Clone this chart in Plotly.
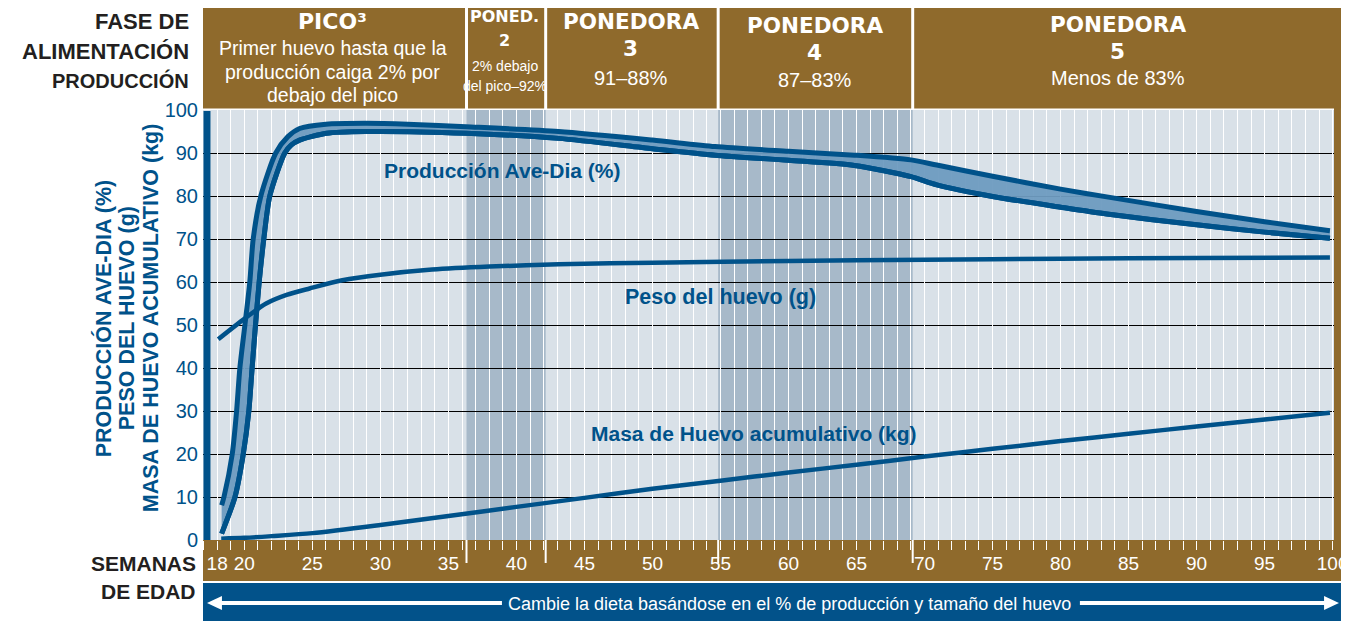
import plotly.graph_objects as go

# ---------------- data ----------------
weeks_prod_high = [18.33, 18.5, 19.11, 19.43, 19.67, 20.04, 20.40, 20.65, 21.21, 22.31, 23.2, 24.06,
                   26.0, 28.9, 32.0, 36.3, 43.1, 50.0, 54.6, 60.0, 64.85, 69.0, 70.9, 75.0, 80.0,
                   83.4, 90.0, 95.0, 99.8]
prod_high = [8.1, 10.0, 20.0, 30.0, 40.0, 50.0, 60.0, 70.0, 80.0, 90.0, 93.8, 95.7,
             96.7, 96.9, 96.7, 96.1, 95.0, 93.0, 91.5, 90.4, 89.5, 88.4, 87.2, 84.6, 81.6,
             79.8, 76.4, 74.0, 71.9]

weeks_prod_low = [18.33, 19.31, 19.92, 20.33, 20.57, 20.82, 21.09, 21.43, 21.87, 22.97, 23.46, 24.06,
                  26.05, 28.9, 36.3, 43.1, 50.0, 54.6, 60.0, 64.85, 69.0, 70.9, 75.0, 80.0,
                  83.4, 90.0, 95.0, 99.8]
prod_low = [1.5, 10.0, 20.0, 30.0, 40.0, 50.0, 60.0, 70.0, 80.0, 90.0, 91.9, 93.0,
            94.6, 95.0, 94.6, 93.4, 91.0, 89.5, 88.3, 87.1, 84.5, 82.6, 79.9, 77.4,
            75.8, 73.3, 71.6, 70.2]

weeks_peso = [18.08, 19.9, 21.6, 23.1, 24.8, 27.2, 30.0, 33.8, 38.0, 43.1, 50.0, 60.0, 70.0, 80.0, 90.0, 99.8]
peso_huevo = [46.7, 51.2, 55.0, 57.0, 58.5, 60.4, 61.7, 62.9, 63.6, 64.1, 64.5, 64.9, 65.2, 65.4, 65.6, 65.7]

weeks_masa = [18.3, 20.0, 22.0, 25.0, 30.0, 35.0, 40.0, 45.0, 50.0, 55.0, 60.0, 65.0, 70.0,
              75.0, 80.0, 85.0, 90.0, 95.0, 99.8]
masa_acum = [0.3, 0.5, 0.9, 1.6, 3.5, 5.6, 7.7, 9.8, 11.9, 13.8, 15.7, 17.5, 19.4,
             21.2, 23.0, 24.7, 26.4, 28.0, 29.6]

x_tick_vals = [18, 20, 25, 30, 35, 40, 45, 50, 55, 60, 65, 70, 75, 80, 85, 90, 95, 100]
x_tick_text = [str(v) for v in x_tick_vals]
y_tick_vals = [0, 10, 20, 30, 40, 50, 60, 70, 80, 90, 100]
y_tick_text = [str(v) for v in y_tick_vals]
y_grid_vals = [10, 20, 30, 40, 50, 60, 70, 80, 90]

phase_bounds = [36.33, 42.15, 54.83, 69.13]          # weeks where feeding phases change
shaded_phases = [(36.33, 42.15), (54.83, 69.13)]

phase_titles = [["PICO³"], ["PONED.", "2"], ["PONEDORA", "3"], ["PONEDORA", "4"], ["PONEDORA", "5"]]
phase_texts = [["Primer huevo hasta que la", "producción caiga 2% por", "debajo del pico"],
               ["2% debajo", "del pico–92%"],
               ["91–88%"], ["87–83%"], ["Menos de 83%"]]

# ---------------- styling / geometry ----------------
OFF = 8                      # the page body adds an 8px margin; design in reference pixels
W, H = 1360 - OFF, 621 - OFF
PL, PR, PT, PB = 203, 1338, 110, 540      # plot area in reference pixels
L, R, T, B = PL - OFF, W - (PR - OFF), PT - OFF, H - (PB - OFF)
X0, X1 = 16.96, 100.1
PW, PH = PR - PL, PB - PT

BLUE = "#00528A"
FILL = "rgba(110,155,192,0.95)"
BROWN = "#8F6A2C"
BG = "#D9E1E8"
DARKBAND = "#A7B9C9"
INK = "#231F20"
NARROW = "Liberation Sans Narrow, Arial Narrow, sans-serif"
SANS = "Liberation Sans, Arial, sans-serif"
HEAVY = "DejaVu Sans, Verdana, sans-serif"


def fx(px):
    return (px - PL) / PW


def fy(py):
    return (PB - py) / PH


def wk2px(w):
    return PL + (w - X0) / (X1 - X0) * PW


fig = go.Figure()

line_kw = dict(shape="spline", smoothing=0.7)
fig.add_trace(go.Scatter(x=weeks_prod_low, y=prod_low, mode="lines",
                         line=dict(color=BLUE, width=5, **line_kw),
                         hoverinfo="skip", showlegend=False))
fig.add_trace(go.Scatter(x=weeks_prod_high, y=prod_high, mode="lines", fill="tonexty",
                         fillcolor=FILL, line=dict(color=BLUE, width=5, **line_kw),
                         hoverinfo="skip", showlegend=False))
fig.add_trace(go.Scatter(x=weeks_prod_low, y=prod_low, mode="lines",
                         line=dict(color=BLUE, width=5, **line_kw),
                         hoverinfo="skip", showlegend=False))
fig.add_trace(go.Scatter(x=weeks_peso, y=peso_huevo, mode="lines",
                         line=dict(color=BLUE, width=4.5, shape="spline", smoothing=0.8),
                         hoverinfo="skip", showlegend=False))
fig.add_trace(go.Scatter(x=weeks_masa, y=masa_acum, mode="lines",
                         line=dict(color=BLUE, width=4.5, shape="spline", smoothing=0.8),
                         hoverinfo="skip", showlegend=False))

shapes = []
for a, b in shaded_phases:
    shapes.append(dict(type="rect", xref="x", yref="paper", x0=a, x1=b, y0=0, y1=1,
                       fillcolor=DARKBAND, line=dict(width=0), layer="below"))

edges = [PL] + [wk2px(w) for w in phase_bounds] + [1345]
for i in range(5):
    x0 = edges[i] + (1.5 if i > 0 else 0)
    x1 = edges[i + 1] - (1.5 if i < 4 else 0)
    shapes.append(dict(type="rect", xref="paper", yref="paper", x0=fx(x0), x1=fx(x1),
                       y0=fy(108.5), y1=fy(8), fillcolor=BROWN, line=dict(width=0), layer="below"))
shapes.append(dict(type="rect", xref="paper", yref="paper", x0=fx(1338), x1=fx(1345),
                   y0=fy(581), y1=fy(8), fillcolor=BROWN, line=dict(width=0), layer="below"))
shapes.append(dict(type="rect", xref="paper", yref="paper", x0=fx(203), x1=fx(1345),
                   y0=fy(581), y1=fy(540), fillcolor=BROWN, line=dict(width=0), layer="below"))
shapes.append(dict(type="rect", xref="paper", yref="paper", x0=fx(203), x1=fx(1345),
                   y0=fy(621), y1=fy(583), fillcolor="#02528A", line=dict(width=0), layer="below"))
shapes.append(dict(type="rect", xref="paper", yref="paper", x0=fx(203.5), x1=fx(210.5),
                   y0=fy(540), y1=fy(111), fillcolor=BLUE, line=dict(width=0), layer="above"))
for w in phase_bounds:
    xp = fx(wk2px(w))
    shapes.append(dict(type="line", xref="paper", yref="paper", x0=xp, x1=xp,
                       y0=fy(540), y1=fy(563), line=dict(color="white", width=2), layer="above"))
ya = fy(603)
shapes.append(dict(type="line", xref="paper", yref="paper", x0=fx(218), x1=fx(503), y0=ya, y1=ya,
                   line=dict(color="white", width=4), layer="above"))
shapes.append(dict(type="line", xref="paper", yref="paper", x0=fx(1083), x1=fx(1330), y0=ya, y1=ya,
                   line=dict(color="white", width=4), layer="above"))
shapes.append(dict(type="path", xref="paper", yref="paper",
                   path=f"M {fx(207)},{ya} L {fx(222)},{fy(596)} L {fx(222)},{fy(610)} Z",
                   fillcolor="white", line=dict(width=0), layer="above"))
shapes.append(dict(type="path", xref="paper", yref="paper",
                   path=f"M {fx(1343)},{ya} L {fx(1328)},{fy(596)} L {fx(1328)},{fy(610)} Z",
                   fillcolor="white", line=dict(width=0), layer="above"))

annotations = []


def add_text(text, px, py, size, family, color, bold=False, xanchor="center", angle=0):
    annotations.append(dict(text=f"<b>{text}</b>" if bold else text, xref="paper", yref="paper",
                            x=fx(px), y=fy(py), xanchor=xanchor, yanchor="middle",
                            showarrow=False, textangle=angle,
                            font=dict(size=size, family=family, color=color)))


centers = [333, 506, 632.5, 817, 1121]
title_y = [[22], [16, 41], [22, 49], [25, 52], [24, 51]]
title_size = [22, 16, 21.5, 21.5, 21.5]
desc_y = [[48, 72, 95], [66, 86], [78], [80], [78]]
desc_size = [19.5, 14, 20, 20, 20]
for i in range(5):
    for t, yy in zip(phase_titles[i], title_y[i]):
        add_text(t, centers[i], yy, title_size[i], HEAVY, "white", bold=True)
    for t, yy in zip(phase_texts[i], desc_y[i]):
        add_text(t, centers[i], yy, desc_size[i], NARROW, "white")

add_text("FASE DE", 191, 22, 22, SANS, INK, bold=True, xanchor="right")
add_text("ALIMENTACIÓN", 191, 51, 22, SANS, INK, bold=True, xanchor="right")
add_text("PRODUCCIÓN", 191, 80, 20, SANS, INK, bold=True, xanchor="right")
add_text("SEMANAS", 198, 563, 21, SANS, INK, bold=True, xanchor="right")
add_text("DE EDAD", 198, 591, 21, SANS, INK, bold=True, xanchor="right")

add_text("PRODUCCIÓN AVE-DIA (%)", 103, 318, 21.5, SANS, BLUE, bold=True, angle=-90)
add_text("PESO DEL HUEVO (g)", 127, 318, 21.5, SANS, BLUE, bold=True, angle=-90)
add_text("MASA DE HUEVO ACUMULATIVO (kg)", 151, 318, 21.5, SANS, BLUE, bold=True, angle=-90)

add_text("Producción Ave-Dia (%)", 503.5, 170, 21, SANS, BLUE, bold=True)
add_text("Peso del huevo (g)", 722, 297, 21.5, SANS, BLUE, bold=True)
add_text("Masa de Huevo acumulativo (kg)", 756, 433, 21, SANS, BLUE, bold=True)

add_text("Cambie la dieta basándose en el % de producción y tamaño del huevo", 792, 604, 18,
         NARROW, "white")

fig.update_layout(
    width=W, height=H,
    margin=dict(l=L, r=R, t=T, b=B, pad=0),
    paper_bgcolor="white", plot_bgcolor=BG,
    showlegend=False,
    shapes=shapes, annotations=annotations,
    xaxis=dict(range=[X0, X1], tickmode="array", tickvals=x_tick_vals, ticktext=x_tick_text,
               ticks="outside", ticklen=9, tickwidth=1, tickcolor="white",
               tickfont=dict(family=NARROW, size=19, color="white"),
               showgrid=True, gridcolor="white", gridwidth=1, zeroline=False, showline=False,
               ticklabelstandoff=-3,
               minor=dict(tick0=0, dtick=1, ticks="outside", ticklen=9, tickwidth=1,
                          tickcolor="white", showgrid=True, gridcolor="white", gridwidth=1)),
    yaxis=dict(range=[0, 100], tickmode="array", tickvals=y_tick_vals, ticktext=y_tick_text,
               ticks="", tickfont=dict(family=NARROW, size=20, color=BLUE),
               showgrid=False, zeroline=False, showline=False, ticklabelstandoff=4,
               minor=dict(tickvals=y_grid_vals, ticks="", showgrid=True,
                          gridcolor="black", gridwidth=1.2)),
)

fig.write_html("out.html")
